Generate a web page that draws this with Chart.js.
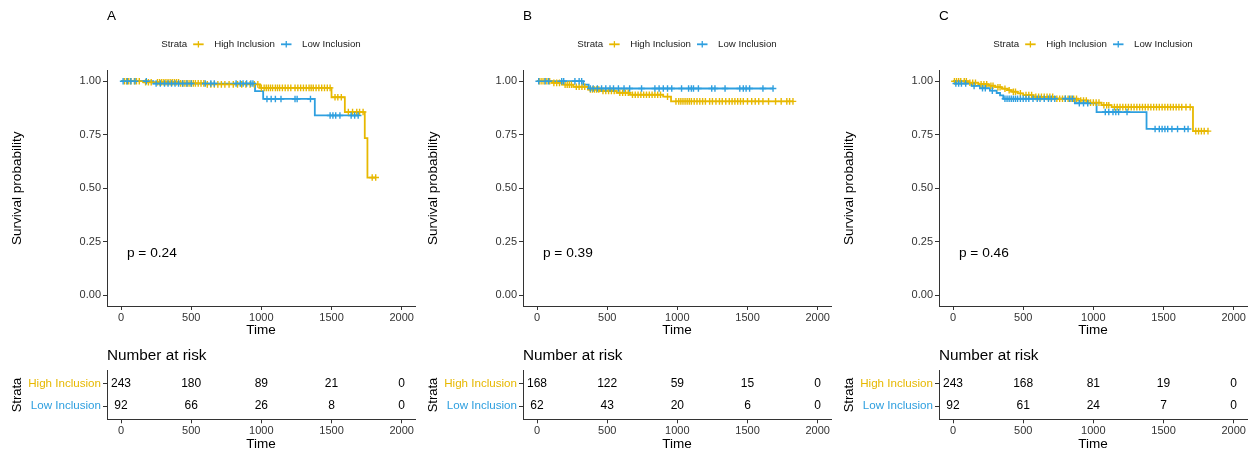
<!DOCTYPE html>
<html>
<head>
<meta charset="utf-8">
<script src="https://cdn.jsdelivr.net/npm/chart.js@4/dist/chart.umd.min.js"></script>
<style>
  html, body { margin: 0; padding: 0; background: #fff; overflow: hidden; width: 1251px; height: 451px; }
  canvas { position: absolute; }
</style>
</head>
<body>
<script>
// ---- Kaplan-Meier data (time in days, survival probability) ----
const strata = ['High Inclusion', 'Low Inclusion'];
const panelLabels = ['A', 'B', 'C'];
const pValues = ['0.24', '0.39', '0.46'];
const timeTicks = [0, 500, 1000, 1500, 2000];
const survTicks = [0, 0.25, 0.5, 0.75, 1];
const riskTimes = [0, 500, 1000, 1500, 2000];

// Panel A
const highTimeA = [0, 160, 420, 600, 990, 1500, 1595, 1737, 1756];
const highSurvA = [1, 0.995, 0.99, 0.985, 0.969, 0.925, 0.856, 0.734, 0.55];
const highCensorA = [25, 40, 55, 70, 95, 110, 130, 175, 195, 215, 260, 275, 290, 305, 320, 335, 350, 365, 380, 395, 410, 425, 440, 455, 470, 485, 500, 515, 530, 550, 570, 590, 615, 640, 665, 690, 715, 740, 770, 800, 830, 860, 890, 920, 950, 975, 1000, 1020, 1035, 1050, 1065, 1080, 1100, 1115, 1130, 1150, 1170, 1190, 1210, 1240, 1260, 1280, 1300, 1320, 1340, 1355, 1370, 1390, 1410, 1430, 1450, 1470, 1490, 1525, 1545, 1570, 1620, 1650, 1680, 1700, 1725, 1790, 1815];
const lowTimeA = [0, 230, 955, 1013, 1381];
const lowSurvA = [1, 0.989, 0.954, 0.917, 0.84];
const lowCensorA = [15, 45, 70, 100, 180, 250, 280, 310, 335, 360, 385, 410, 440, 470, 500, 600, 640, 665, 820, 850, 870, 895, 925, 940, 1040, 1070, 1100, 1140, 1240, 1255, 1350, 1490, 1510, 1530, 1560, 1640, 1665, 1690];
const riskHighA = [243, 180, 89, 21, 0];
const riskLowA = [92, 66, 26, 8, 0];

// Panel B
const highTimeB = [0, 104, 176, 258, 365, 448, 567, 662, 899, 955];
const highSurvB = [1, 0.992, 0.984, 0.974, 0.961, 0.954, 0.946, 0.937, 0.928, 0.906];
const highCensorB = [20, 35, 50, 70, 90, 120, 140, 160, 200, 215, 230, 245, 280, 300, 320, 340, 380, 395, 410, 425, 440, 470, 490, 510, 530, 550, 590, 610, 630, 650, 680, 700, 720, 740, 760, 780, 800, 820, 840, 860, 880, 930, 990, 1010, 1025, 1040, 1055, 1070, 1085, 1100, 1120, 1140, 1160, 1180, 1200, 1230, 1250, 1275, 1300, 1320, 1345, 1370, 1390, 1410, 1430, 1450, 1470, 1500, 1530, 1555, 1580, 1610, 1650, 1700, 1740, 1780, 1800, 1824];
const lowTimeB = [0, 330, 368];
const lowSurvB = [1, 0.984, 0.966];
const lowCensorB = [12, 58, 82, 176, 190, 270, 300, 318, 380, 400, 430, 460, 490, 520, 545, 580, 620, 660, 745, 840, 870, 900, 930, 960, 1030, 1080, 1100, 1115, 1150, 1245, 1268, 1340, 1445, 1470, 1490, 1515, 1610, 1682];
const riskHighB = [168, 122, 59, 15, 0];
const riskLowB = [62, 43, 20, 6, 0];

// Panel C
const highTimeC = [0, 109, 180, 251, 300, 347, 390, 418, 460, 500, 572, 726, 892, 963, 1058, 1130, 1710];
const highSurvC = [1, 0.993, 0.986, 0.979, 0.972, 0.965, 0.958, 0.951, 0.943, 0.935, 0.927, 0.918, 0.91, 0.9, 0.888, 0.879, 0.767];
const highCensorC = [10, 25, 40, 55, 80, 95, 120, 140, 160, 200, 220, 240, 270, 285, 320, 335, 370, 400, 430, 445, 480, 520, 540, 560, 590, 610, 630, 650, 670, 690, 710, 740, 760, 780, 800, 820, 840, 860, 880, 910, 930, 950, 980, 1000, 1020, 1040, 1075, 1095, 1110, 1150, 1170, 1190, 1210, 1230, 1250, 1270, 1290, 1310, 1330, 1350, 1370, 1390, 1410, 1430, 1450, 1470, 1490, 1510, 1530, 1550, 1570, 1590, 1610, 1630, 1660, 1690, 1730, 1750, 1770, 1790, 1817];
const lowTimeC = [0, 14, 133, 192, 263, 311, 335, 358, 868, 1023, 1379];
const lowSurvC = [1, 0.989, 0.978, 0.967, 0.956, 0.945, 0.934, 0.918, 0.897, 0.856, 0.777];
const lowCensorC = [20, 40, 60, 90, 150, 210, 230, 280, 370, 385, 400, 415, 430, 445, 460, 480, 500, 520, 540, 570, 600, 620, 650, 680, 700, 725, 800, 830, 850, 900, 930, 960, 1085, 1110, 1140, 1160, 1180, 1240, 1440, 1470, 1490, 1510, 1530, 1560, 1600, 1650, 1675];
const riskHighC = [243, 168, 81, 19, 0];
const riskLowC = [92, 61, 24, 7, 0];

// ---- styling ----
const colHigh = '#E7B800';
const colLow = '#2E9FDF';
const FONT = '"Liberation Sans", Arial, Helvetica, sans-serif';
const axisGrey = '#333333';
const PANEL_W = 416;
const PLOT_H = 345;
const TABLE_H = 108;

const panels = [
  { label: panelLabels[0], p: pValues[0],
    high: [highTimeA, highSurvA, highCensorA], low: [lowTimeA, lowSurvA, lowCensorA],
    risk: [riskHighA, riskLowA] },
  { label: panelLabels[1], p: pValues[1],
    high: [highTimeB, highSurvB, highCensorB], low: [lowTimeB, lowSurvB, lowCensorB],
    risk: [riskHighB, riskLowB] },
  { label: panelLabels[2], p: pValues[2],
    high: [highTimeC, highSurvC, highCensorC], low: [lowTimeC, lowSurvC, lowCensorC],
    risk: [riskHighC, riskLowC] }
];

// survival value of a step curve at time t
function survAt(times, survs, t) {
  let s = survs[0];
  for (let i = 0; i < times.length; i++) if (times[i] <= t) s = survs[i];
  return s;
}
function stepLine(times, survs, censors) {
  const pts = times.map((t, i) => ({ x: t, y: survs[i] }));
  const end = Math.max(times[times.length - 1], censors[censors.length - 1]);
  pts.push({ x: end, y: survs[survs.length - 1] });
  return pts;
}
function censorPts(times, survs, censors) {
  return censors.map(t => ({ x: t, y: survAt(times, survs, t) }));
}

function makeCanvas(left, top, w, h) {
  const c = document.createElement('canvas');
  c.width = w; c.height = h;
  c.style.left = left + 'px'; c.style.top = top + 'px';
  c.style.width = w + 'px'; c.style.height = h + 'px';
  document.body.appendChild(c);
  return c;
}

const xScaleBase = {
  type: 'linear', min: -100, max: 2095,
  afterBuildTicks: s => { s.ticks = timeTicks.map(v => ({ value: v })); },
  ticks: { color: axisGrey, font: { family: FONT, size: 11 }, padding: 1, maxRotation: 0, callback: v => String(v) },
  grid: { drawOnChartArea: false, drawTicks: true, tickLength: 4, tickColor: axisGrey, tickWidth: 1 },
  border: { color: axisGrey, width: 1 }
};

// legend + panel letter + p-value drawn on top of the survival plot
const kmDecor = {
  id: 'kmDecor',
  afterDraw(chart, args, opts) {
    const ctx = chart.ctx;
    const xs = chart.scales.x, ys = chart.scales.y;
    const ca = chart.chartArea;
    ctx.save();
    ctx.fillStyle = '#000';
    ctx.textBaseline = 'middle';
    ctx.textAlign = 'left';
    ctx.font = '13.5px ' + FONT;
    ctx.fillText(opts.label, 107, 16);

    // legend
    ctx.font = '9.7px ' + FONT;
    const items = [{ text: 'Strata' }, { text: strata[0], col: colHigh }, { text: strata[1], col: colLow }];
    const symW = 10.5, gapPre = 6, gapPost = 10.5;
    let total = 0;
    items.forEach((it, i) => {
      it.w = ctx.measureText(it.text).width;
      total += it.w + (i > 0 ? symW + gapPost : 0) + (i < items.length - 1 ? gapPre : 0);
    });
    let x = (ca.left + ca.right) / 2 - total / 2;
    const ly = 44.3;
    items.forEach((it, i) => {
      if (it.col) {
        ctx.strokeStyle = it.col;
        ctx.lineWidth = 1.8;
        ctx.beginPath(); ctx.moveTo(x, ly); ctx.lineTo(x + symW, ly); ctx.stroke();
        ctx.lineWidth = 1.3;
        ctx.beginPath(); ctx.moveTo(x + symW / 2, ly - 3.2); ctx.lineTo(x + symW / 2, ly + 3.2); ctx.stroke();
        x += symW + gapPost;
      }
      ctx.fillStyle = '#1a1a1a';
      ctx.fillText(it.text, x, ly);
      x += it.w + gapPre;
    });

    // p-value
    ctx.fillStyle = '#000';
    ctx.font = '13.7px ' + FONT;
    ctx.fillText('p = ' + opts.p, xs.getPixelForValue(42), ys.getPixelForValue(0.197));
    ctx.restore();
  }
};

// numbers at risk drawn at each table point
const riskLabels = {
  id: 'riskLabels',
  afterDatasetsDraw(chart, args, opts) {
    const ctx = chart.ctx;
    ctx.save();
    ctx.fillStyle = '#000';
    ctx.font = '12px ' + FONT;
    ctx.textAlign = 'center';
    ctx.textBaseline = 'middle';
    chart.data.datasets.forEach((ds, di) => {
      chart.getDatasetMeta(di).data.forEach((pt, i) => {
        ctx.fillText(String(ds.data[i].n), pt.x, pt.y);
      });
    });
    ctx.font = '15.3px ' + FONT;
    ctx.textAlign = 'left';
    ctx.fillText('Number at risk', 107, 10.8);
    ctx.restore();
  }
};

panels.forEach((pn, k) => {
  const dx = k * PANEL_W;
  const [hT, hS, hC] = pn.high;
  const [lT, lS, lC] = pn.low;

  // survival curves
  const c1 = makeCanvas(dx, 0, PANEL_W, PLOT_H);
  new Chart(c1, {
    type: 'line',
    data: {
      datasets: [
        { label: strata[0], data: stepLine(hT, hS, hC), borderColor: colHigh, borderWidth: 1.8,
          stepped: true, pointRadius: 0, fill: false, order: 4 },
        { label: strata[1], data: stepLine(lT, lS, lC), borderColor: colLow, borderWidth: 1.8,
          stepped: true, pointRadius: 0, fill: false, order: 3 },
        { label: strata[0] + ' censor', data: censorPts(hT, hS, hC), showLine: false,
          pointStyle: 'cross', pointRadius: 3.3, pointBorderWidth: 1.4, borderColor: colHigh,
          pointBorderColor: colHigh, order: 2 },
        { label: strata[1] + ' censor', data: censorPts(lT, lS, lC), showLine: false,
          pointStyle: 'cross', pointRadius: 3.3, pointBorderWidth: 1.4, borderColor: colLow,
          pointBorderColor: colLow, order: 1 }
      ]
    },
    options: {
      responsive: false, animation: false, parsing: true,
      layout: { autoPadding: false, padding: { left: 0, right: 1, top: 70.5, bottom: 0 } },
      plugins: { legend: { display: false }, tooltip: { enabled: false }, kmDecor: { label: pn.label, p: pn.p } },
      scales: {
        x: Object.assign({}, xScaleBase, {
          afterFit: s => { s.height = PLOT_H - 306; },
          title: { display: true, text: 'Time', color: '#000', font: { family: FONT, size: 13.5 }, padding: { top: 0, bottom: 6.9 } }
        }),
        y: {
          type: 'linear', min: -0.05, max: 1.05,
          afterBuildTicks: s => { s.ticks = survTicks.map(v => ({ value: v })); },
          afterFit: s => { s.width = 107; },
          ticks: { color: axisGrey, font: { family: FONT, size: 11 }, padding: 2, callback: v => v.toFixed(2) },
          grid: { drawOnChartArea: false, drawTicks: true, tickLength: 4, tickColor: axisGrey, tickWidth: 1 },
          border: { color: axisGrey, width: 1 },
          title: { display: true, text: 'Survival probability', color: '#000', font: { family: FONT, size: 13.5 }, padding: { top: 9.5, bottom: 0 } }
        }
      }
    },
    plugins: [kmDecor]
  });

  // number-at-risk table
  const c2 = makeCanvas(dx, PLOT_H, PANEL_W, TABLE_H);
  new Chart(c2, {
    type: 'scatter',
    data: {
      datasets: [
        { label: strata[0], data: riskTimes.map((t, i) => ({ x: t, y: 2, n: pn.risk[0][i] })), pointRadius: 0 },
        { label: strata[1], data: riskTimes.map((t, i) => ({ x: t, y: 1, n: pn.risk[1][i] })), pointRadius: 0 }
      ]
    },
    options: {
      responsive: false, animation: false,
      layout: { autoPadding: false, padding: { left: 0, right: 1, top: 25.7, bottom: 0 } },
      plugins: { legend: { display: false }, tooltip: { enabled: false } },
      scales: {
        x: Object.assign({}, xScaleBase, {
          afterFit: s => { s.height = TABLE_H - 74.3; },
          title: { display: true, text: 'Time', color: '#000', font: { family: FONT, size: 13.5 }, padding: { top: 0, bottom: 0.6 } }
        }),
        y: {
          type: 'linear', min: 0.4, max: 2.6,
          afterBuildTicks: s => { s.ticks = [{ value: 2 }, { value: 1 }]; },
          afterFit: s => { s.width = 107; },
          ticks: {
            font: { family: FONT, size: 11.6 }, padding: 2,
            color: c => (c.tick && c.tick.value === 2) ? colHigh : colLow,
            callback: v => v === 2 ? strata[0] : strata[1]
          },
          grid: { drawOnChartArea: false, drawTicks: true, tickLength: 4, tickColor: axisGrey, tickWidth: 1 },
          border: { color: axisGrey, width: 1 },
          title: { display: true, text: 'Strata', color: '#000', font: { family: FONT, size: 13 }, padding: { top: 9.8, bottom: 0 } }
        }
      }
    },
    plugins: [riskLabels]
  });
});
</script>
</body>
</html>
